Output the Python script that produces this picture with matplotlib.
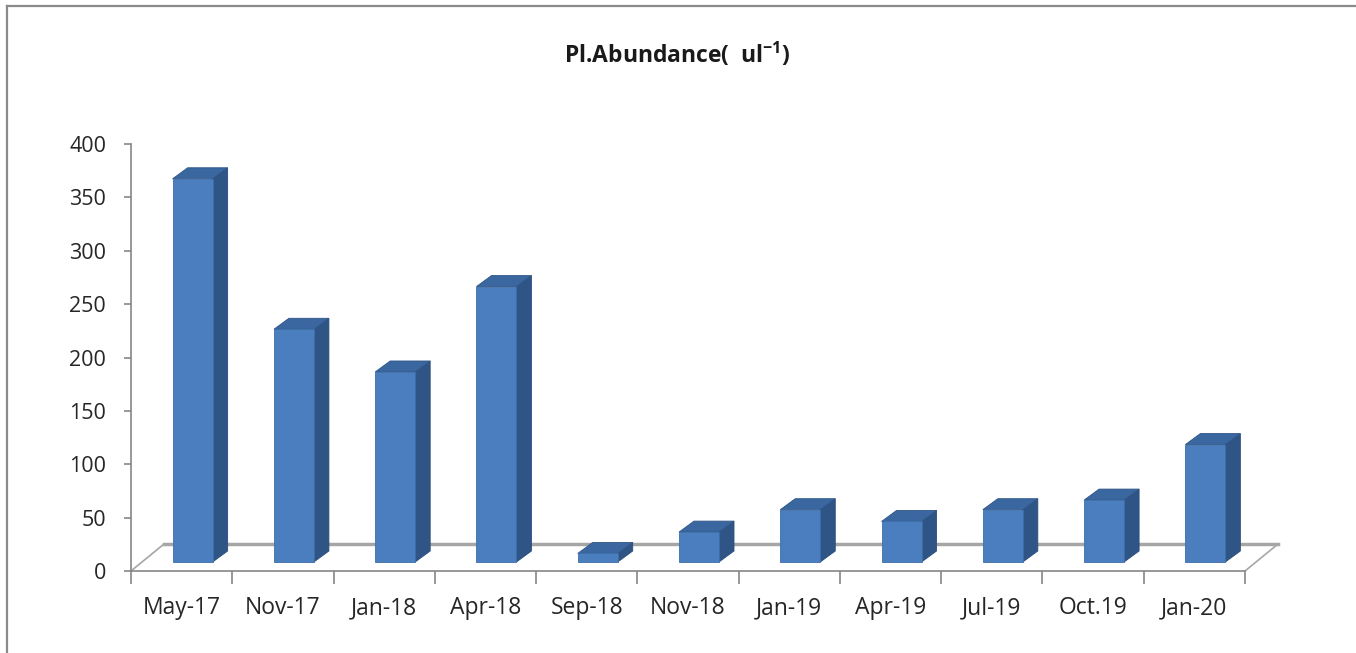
import numpy as np
import matplotlib
matplotlib.use('Agg')
from matplotlib import pyplot as plt
from matplotlib.patches import Polygon, Rectangle
from matplotlib.lines import Line2D

plt.rcParams['font.family'] = ['Open Sans', 'DejaVu Sans']

# data
months = ['May-17', 'Nov-17', 'Jan-18', 'Apr-18', 'Sep-18', 'Nov-18',
          'Jan-19', 'Apr-19', 'Jul-19', 'Oct.19', 'Jan-20']
abundance = [359, 218, 178, 258, 8, 28, 49, 38, 49, 58, 110]
yticks = [0, 50, 100, 150, 200, 250, 300, 350, 400]

fig = plt.figure(figsize=(13.56, 6.53), dpi=100)
W, H = 1356, 653

# axes placed in pixel space of the reference
x0, x1 = 131, 1245
y0, y1 = 571, 144
ax = fig.add_axes([x0 / W, 1 - y0 / H, (x1 - x0) / W, (y0 - y1) / H])
n = len(months)
ax.set_xlim(0, n)
ax.set_ylim(0, 400)

# 3d look: floor depth in data units
cat_px = (x1 - x0) / n
val_px = (y0 - y1) / 400.0
ddx = 33 / cat_px
ddy = 27 / val_px

# floor
floor = Polygon([(0, 0), (ddx, ddy), (n + ddx, ddy), (n, 0)], closed=True,
                facecolor='white', edgecolor='none', clip_on=False, zorder=1)
ax.add_patch(floor)
ax.add_line(Line2D([ddx, n + ddx], [ddy, ddy], color='#a6a6a6', lw=2.5,
                   clip_on=False, zorder=2))
ax.add_line(Line2D([0, ddx], [0, ddy], color='#a6a6a6', lw=1.2,
                   clip_on=False, zorder=2))
ax.add_line(Line2D([n, n + ddx], [0, ddy], color='#a6a6a6', lw=1.2,
                   clip_on=False, zorder=2))

# bars
bw = 40 / cat_px
fx, fy = ddx / 3, ddy / 3
sdx, sdy = 15 / cat_px, 11 / val_px
for i, v in enumerate(abundance):
    xl = i + 0.5 - bw / 2 + fx
    xr = xl + bw
    side = Polygon([(xr, fy), (xr + sdx, fy + sdy), (xr + sdx, fy + sdy + v), (xr, fy + v)],
                   closed=True, facecolor='#2f5586', edgecolor='#2a4d7a', lw=0.6,
                   clip_on=False, zorder=3)
    top = Polygon([(xl, fy + v), (xr, fy + v), (xr + sdx, fy + v + sdy), (xl + sdx, fy + v + sdy)],
                  closed=True, facecolor='#3a67a0', edgecolor='#2f5586', lw=0.6,
                  clip_on=False, zorder=3)
    front = Rectangle((xl, fy), bw, v, facecolor='#4a7ebe', edgecolor='#3d6ea9',
                      lw=0.6, clip_on=False, zorder=4)
    ax.add_patch(side)
    ax.add_patch(top)
    ax.add_patch(front)

# axes styling
for s in ['top', 'right']:
    ax.spines[s].set_visible(False)
for s in ['left', 'bottom']:
    ax.spines[s].set_color('#868686')
    ax.spines[s].set_linewidth(1.2)
ax.set_facecolor('none')
ax.set_yticks(yticks)
ax.set_yticklabels([str(t) for t in yticks], fontsize=15.5)
ax.set_xticks(np.arange(n + 1))
ax.set_xticklabels([])
ax.set_xticks(np.arange(n) + 0.5, minor=True)
ax.set_xticklabels(months, minor=True, fontsize=16.5)
ax.tick_params(axis='y', length=5, width=1.2, color='#868686', pad=13, labelcolor='#262626')
ax.tick_params(axis='x', which='major', length=9, width=1.2, color='#868686')
ax.tick_params(axis='x', which='minor', length=0, pad=18, labelcolor='#262626')

fig.text(x=677 / W, y=1 - 55 / H, s=r'Pl.Abundance(  ul$^{\mathregular{-1}}$)',
         ha='center', va='center', fontsize=16.5, fontweight='bold', color='#1a1a1a')

# chart border (top and left)
fig.add_artist(Line2D([7 / W, 7 / W], [0, 1 - 6 / H], color='#8a8a8a', lw=1.6, transform=fig.transFigure))
fig.add_artist(Line2D([7 / W, 1], [1 - 6 / H, 1 - 6 / H], color='#8a8a8a', lw=1.6, transform=fig.transFigure))

fig.savefig('out.png', dpi=100)
